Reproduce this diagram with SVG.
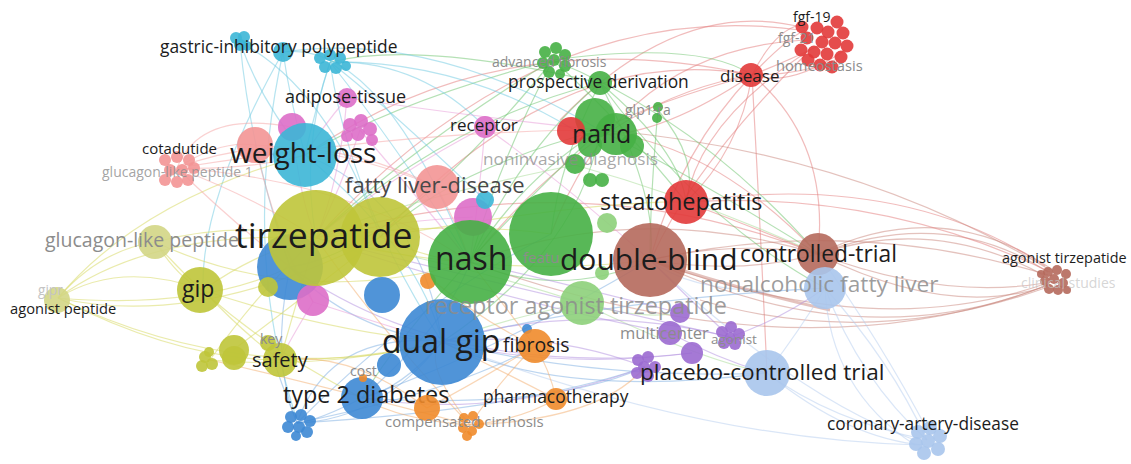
<svg xmlns="http://www.w3.org/2000/svg" width="1131" height="464" viewBox="0 0 1131 464">
<style>
text{font-family:"Open Sans","Noto Sans","Liberation Sans",sans-serif;}
.k{fill:#1c1c1c}.gr{fill:#8c8c8c}.lt{fill:#c4c4c4}.dk{fill:#484848}
#links path{fill:none;stroke-width:1.2;stroke-opacity:.5}
.r{stroke:#e47a7a}.br{stroke:#c9857b}.g{stroke:#6cc46c}.lg{stroke:#a6dc94}.c{stroke:#6ec9e1}.b{stroke:#7badE2}.lb{stroke:#b5cdf0}.y{stroke:#d6d85a}.p{stroke:#b28fe0}.o{stroke:#f3ad6e}.m{stroke:#e89ad8}.s{stroke:#f6a3a3}
.Y{fill:#bfc53a}.LY{fill:#d3d685}.B{fill:#3d88d4}.G{fill:#46b045}.LG{fill:#8dd07a}.R{fill:#e23a3a}.BR{fill:#b5695c}.LB{fill:#a9c5ec}.P{fill:#9b6ad0}.O{fill:#f08b2b}.M{fill:#dd6ec8}.S{fill:#f39595}.C{fill:#3cb6d6}
circle{fill-opacity:.9}
</style>
<rect width="1131" height="464" fill="#ffffff"/>
<g id="links">
<path class="r" d="M752 75 Q785 40 805 30"/><path class="r" d="M752 75 Q790 60 820 45"/><path class="r" d="M752 75 Q800 75 835 60"/><path class="r" d="M752 75 Q775 30 800 25"/><path class="r" d="M752 75 Q790 88 845 50"/>
<path class="r" d="M752 75 Q680 150 650 260"/><path class="r" d="M752 75 Q740 150 686 202"/><path class="r" d="M752 75 Q600 100 470 262"/><path class="r" d="M752 75 Q560 40 380 237"/><path class="r" d="M752 75 Q830 140 818 254"/><path class="r" d="M752 75 Q660 100 600 130"/><path class="r" d="M805 28 Q680 -5 560 120"/><path class="r" d="M810 50 Q700 120 686 202"/><path class="r" d="M805 55 Q690 170 651 260"/><path class="r" d="M805 40 Q620 50 551 234"/><path class="r" d="M686 202 Q760 230 818 254"/><path class="r" d="M576 131 Q700 130 818 254"/><path class="r" d="M752 75 Q640 150 572 131"/><path class="r" d="M752 75 Q500 20 305 155"/><path class="r" d="M800 30 Q540 -5 316 238"/><path class="r" d="M752 75 Q760 220 767 373"/>
<path class="br" d="M818 254 Q940 195 1050 268"/><path class="br" d="M818 254 Q945 205 1048 272"/><path class="br" d="M818 254 Q935 215 1045 276"/><path class="r" d="M686 202 Q900 170 1045 266"/><path class="r" d="M686 202 Q880 190 1050 272"/><path class="br" d="M650 260 Q860 360 1048 285"/><path class="br" d="M650 260 Q880 345 1050 282"/><path class="br" d="M700 300 Q870 350 1045 288"/><path class="br" d="M818 254 Q950 320 1050 285"/><path class="br" d="M818 254 Q940 300 1045 283"/><path class="br" d="M650 260 Q850 215 1048 275"/><path class="br" d="M600 130 Q850 150 1050 270"/><path class="br" d="M470 262 Q800 380 1045 286"/>
<path class="br" d="M650 260 Q735 240 818 254"/><path class="br" d="M650 260 Q740 275 818 254"/><path class="br" d="M470 262 Q640 200 818 254"/><path class="r" d="M316 238 Q580 160 818 254"/><path class="br" d="M650 260 Q740 290 830 310" style="stroke-width:3"/>
<path class="g" d="M600 83 Q520 150 470 262"/><path class="g" d="M600 83 Q560 160 551 234"/><path class="g" d="M600 83 Q450 120 316 238"/><path class="g" d="M600 83 Q680 150 686 202"/><path class="g" d="M600 83 Q660 200 650 260"/><path class="g" d="M553 60 Q400 100 305 155"/><path class="g" d="M553 60 Q420 140 316 238"/><path class="g" d="M553 60 Q500 160 470 262"/><path class="g" d="M553 60 Q620 120 686 202"/><path class="g" d="M553 60 Q700 40 752 75"/><path class="g" d="M600 130 Q520 180 470 262"/><path class="g" d="M600 130 Q450 170 380 237"/><path class="g" d="M600 130 Q700 180 818 254"/><path class="g" d="M658 110 Q700 160 686 202"/><path class="g" d="M658 110 Q650 200 650 260"/><path class="g" d="M600 130 Q580 250 442 342"/><path class="g" d="M470 262 Q560 300 650 260"/><path class="g" d="M553 60 Q700 120 818 254"/><path class="g" d="M600 83 Q700 220 825 288"/><path class="g" d="M600 83 Q420 40 330 62"/><path class="g" d="M553 60 Q400 250 290 267"/><path class="g" d="M600 130 Q420 300 362 398"/>
<path class="lg" d="M582 303 Q500 320 442 342"/><path class="lg" d="M582 303 Q640 320 680 313"/><path class="lg" d="M582 303 Q450 260 316 238"/><path class="lg" d="M582 303 Q700 360 767 373"/><path class="lg" d="M575 165 Q700 200 818 254"/><path class="lg" d="M575 165 Q400 200 316 238"/>
<path class="c" d="M240 42 Q260 100 305 155"/><path class="c" d="M283 52 Q290 100 305 155"/><path class="c" d="M330 62 Q315 110 305 155"/><path class="c" d="M330 62 Q300 150 316 238"/><path class="c" d="M240 42 Q250 150 290 267"/><path class="c" d="M330 62 Q350 200 442 342"/><path class="c" d="M330 62 Q400 150 470 262"/><path class="c" d="M330 62 Q460 60 576 131"/><path class="c" d="M283 52 Q430 30 600 130"/><path class="c" d="M330 62 Q380 100 485 200"/><path class="c" d="M283 52 Q200 200 203 290"/><path class="c" d="M305 155 Q420 250 442 342"/><path class="c" d="M283 52 Q240 250 297 420"/><path class="c" d="M330 62 Q420 60 485 127"/><path class="c" d="M240 42 Q330 90 380 237"/><path class="c" d="M283 52 Q380 40 470 262"/>
<path class="b" d="M442 342 Q380 420 297 423"/><path class="b" d="M442 342 Q400 390 362 398"/><path class="b" d="M290 267 Q270 360 297 423"/><path class="b" d="M362 398 Q320 420 297 423"/><path class="b" d="M442 342 Q600 380 767 373"/><path class="b" d="M442 342 Q600 300 825 288"/><path class="b" d="M362 398 Q450 320 470 262"/><path class="b" d="M290 267 Q350 330 442 342"/><path class="b" d="M442 342 Q420 200 305 155"/><path class="b" d="M297 423 Q330 330 442 342"/><path class="b" d="M297 423 Q520 410 645 367"/><path class="b" d="M362 398 Q550 410 645 367"/><path class="b" d="M442 342 Q560 400 767 373"/><path class="b" d="M297 423 Q260 330 280 360"/><path class="b" d="M297 423 Q420 300 551 234"/><path class="b" d="M362 398 Q500 350 650 260"/><path class="b" d="M297 423 Q460 390 535 346"/>
<path class="lb" d="M825 288 Q860 380 927 440"/><path class="lb" d="M825 288 Q890 360 927 440"/><path class="lb" d="M825 288 Q830 390 915 445"/><path class="lb" d="M767 373 Q830 420 927 440"/><path class="lb" d="M767 373 Q850 440 925 445"/><path class="lb" d="M825 288 Q800 330 767 373"/><path class="lb" d="M818 254 Q880 340 930 435"/><path class="lb" d="M442 342 Q700 440 920 445"/><path class="lb" d="M650 260 Q800 400 915 440"/><path class="lb" d="M825 288 Q700 300 650 260"/>
<path class="y" d="M58 298 Q120 260 203 290"/><path class="y" d="M58 298 Q150 230 316 238"/><path class="y" d="M58 298 Q200 330 380 237"/><path class="y" d="M58 298 Q180 360 280 360"/><path class="y" d="M58 298 Q100 250 155 242"/><path class="y" d="M58 298 Q200 310 290 267"/><path class="y" d="M155 242 Q240 220 316 238"/><path class="y" d="M155 242 Q180 280 203 290"/><path class="y" d="M203 290 Q240 330 280 360"/><path class="y" d="M203 290 Q260 250 316 238"/><path class="y" d="M210 360 Q260 290 316 238"/><path class="y" d="M233 350 Q300 300 380 237"/><path class="y" d="M280 360 Q360 360 442 342"/><path class="y" d="M280 360 Q300 290 316 238"/><path class="y" d="M203 290 Q320 330 442 342"/><path class="y" d="M155 242 Q300 310 470 262"/><path class="y" d="M58 298 Q250 390 442 342"/><path class="y" d="M210 360 Q320 370 442 342"/><path class="y" d="M380 237 Q430 260 470 262"/><path class="y" d="M316 238 Q450 220 551 234"/><path class="y" d="M316 238 Q500 280 650 260"/><path class="y" d="M58 298 Q140 200 305 155"/><path class="y" d="M155 242 Q230 330 362 398"/><path class="y" d="M380 237 Q600 200 686 202"/>
<path class="p" d="M645 367 Q550 330 442 342"/><path class="p" d="M730 337 Q580 300 442 342"/><path class="p" d="M680 313 Q550 280 470 262"/><path class="p" d="M670 333 Q500 300 316 238"/><path class="p" d="M692 353 Q560 370 442 342"/><path class="p" d="M730 337 Q690 300 650 260"/><path class="p" d="M645 367 Q500 420 362 398"/><path class="p" d="M730 337 Q780 320 825 288"/><path class="p" d="M670 333 Q720 360 767 373"/><path class="p" d="M730 337 Q480 280 316 238"/><path class="p" d="M692 353 Q450 380 290 267"/>
<path class="o" d="M470 425 Q500 380 535 346"/><path class="o" d="M470 425 Q420 360 442 342"/><path class="o" d="M470 425 Q400 420 362 398"/><path class="o" d="M556 399 Q500 370 442 342"/><path class="o" d="M556 399 Q550 370 535 346"/><path class="o" d="M427 408 Q480 380 535 346"/><path class="o" d="M470 425 Q520 420 556 399"/><path class="o" d="M470 425 Q380 330 316 238"/><path class="o" d="M535 346 Q500 300 470 262"/><path class="o" d="M430 278 Q480 320 535 346"/><path class="o" d="M470 425 Q600 420 645 367"/><path class="o" d="M427 408 Q350 350 280 360"/><path class="o" d="M470 425 Q300 380 210 360"/>
<path class="m" d="M347 98 Q320 130 305 155"/><path class="m" d="M347 98 Q340 180 316 238"/><path class="m" d="M360 130 Q340 190 316 238"/><path class="m" d="M485 127 Q400 170 316 238"/><path class="m" d="M485 127 Q480 190 470 262"/><path class="m" d="M292 127 Q300 200 316 238"/><path class="m" d="M313 302 Q300 270 290 267"/><path class="m" d="M473 217 Q400 220 316 238"/><path class="m" d="M360 130 Q420 200 470 262"/><path class="m" d="M485 127 Q560 180 650 260"/><path class="m" d="M347 98 Q500 120 600 130"/><path class="m" d="M313 302 Q400 330 442 342"/><path class="m" d="M313 302 Q290 340 280 360"/>
<path class="s" d="M177 168 Q220 140 255 145"/><path class="s" d="M177 168 Q250 170 305 155"/><path class="s" d="M177 168 Q260 200 316 238"/><path class="s" d="M177 168 Q300 120 437 187"/><path class="s" d="M177 168 Q350 180 470 262"/><path class="s" d="M177 168 Q230 220 290 267"/><path class="s" d="M255 145 Q350 150 437 187"/><path class="s" d="M437 187 Q460 230 470 262"/><path class="s" d="M177 168 Q420 130 600 130"/><path class="s" d="M255 145 Q280 250 313 302"/><path class="s" d="M177 168 Q200 110 292 127"/>
</g>
<g id="n-gastric">
<circle class="C" cx="236" cy="38" r="6"/><circle class="C" cx="244" cy="37" r="6"/><circle class="C" cx="240" cy="45" r="6"/><circle class="C" cx="247" cy="46" r="5"/>
<circle class="C" cx="283" cy="52" r="10"/>
<circle class="C" cx="320" cy="58" r="6"/><circle class="C" cx="330" cy="55" r="6"/><circle class="C" cx="340" cy="58" r="6"/><circle class="C" cx="325" cy="67" r="6"/><circle class="C" cx="336" cy="68" r="6"/><circle class="C" cx="346" cy="66" r="5"/>
<text class="k" x="160" y="53" font-size="17.4">gastric-inhibitory polypeptide</text>
</g>
<g id="n-adipose">
<circle class="M" cx="350" cy="125" r="7"/><circle class="M" cx="361" cy="121" r="7"/><circle class="M" cx="370" cy="129" r="7"/><circle class="M" cx="358" cy="134" r="7"/><circle class="M" cx="347" cy="136" r="6"/><circle class="M" cx="372" cy="140" r="6"/>
<circle class="M" cx="347" cy="98" r="10"/>
<text class="k" x="285" y="103" font-size="18">adipose-tissue</text>
</g>
<g id="n-cotadutide">
<circle class="S" cx="165" cy="160" r="6"/><circle class="S" cx="177" cy="157" r="6"/><circle class="S" cx="189" cy="160" r="6"/><circle class="S" cx="170" cy="170" r="6"/><circle class="S" cx="182" cy="170" r="6"/><circle class="S" cx="194" cy="168" r="6"/><circle class="S" cx="165" cy="180" r="6"/><circle class="S" cx="177" cy="182" r="6"/><circle class="S" cx="188" cy="180" r="6"/>
<text class="k" x="142" y="154" font-size="15">cotadutide</text>
<text class="gr" x="102" y="177" font-size="14" fill-opacity=".8">glucagon-like peptide 1</text>
</g>
<g id="n-weight-loss">
<circle class="S" cx="255" cy="145" r="18"/>
<circle class="M" cx="292" cy="127" r="14"/>
<circle class="C" cx="305" cy="155" r="32"/>
<text class="k" x="230" y="163" font-size="28">weight-loss</text>
</g>
<g id="n-receptor">
<circle class="M" cx="485" cy="127" r="11"/>
<text class="k" x="450" y="131" font-size="17">receptor</text>
</g>
<g id="n-advanced-fibrosis">
<circle class="G" cx="545" cy="52" r="6"/><circle class="G" cx="556" cy="48" r="6"/><circle class="G" cx="565" cy="55" r="6"/><circle class="G" cx="543" cy="63" r="6"/><circle class="G" cx="554" cy="60" r="6"/><circle class="G" cx="565" cy="66" r="6"/><circle class="G" cx="549" cy="72" r="6"/><circle class="G" cx="560" cy="74" r="5"/>
<text class="gr" x="492" y="67" font-size="14">advanced fibrosis</text>
</g>
<g id="n-prospective">
<circle class="G" cx="600" cy="83" r="12"/>
<text class="k" x="508" y="88" font-size="17.4">prospective derivation</text>
</g>
<g id="n-disease">
<circle class="R" cx="751" cy="75" r="12"/>
<text class="k" x="720" y="82" font-size="17">disease</text>
</g>
<g id="n-fgf">
<circle class="R" cx="802" cy="27" r="6.5"/><circle class="R" cx="817" cy="28" r="6.5"/><circle class="R" cx="828" cy="32" r="6.5"/><circle class="R" cx="837" cy="22" r="6.5"/><circle class="R" cx="843" cy="33" r="6.5"/><circle class="R" cx="807" cy="38" r="6.5"/><circle class="R" cx="822" cy="42" r="6.5"/><circle class="R" cx="835" cy="43" r="6.5"/><circle class="R" cx="847" cy="46" r="6.5"/><circle class="R" cx="801" cy="50" r="6.5"/><circle class="R" cx="814" cy="52" r="6.5"/><circle class="R" cx="827" cy="54" r="6.5"/><circle class="R" cx="841" cy="57" r="6.5"/><circle class="R" cx="808" cy="60" r="6.5"/><circle class="R" cx="820" cy="65" r="6.5"/><circle class="R" cx="832" cy="67" r="6.5"/>
<text class="k" x="793" y="22" font-size="14">fgf-19</text>
<text class="gr" x="778" y="43" font-size="14">fgf-21</text>
<text class="gr" x="776" y="71" font-size="14.7">homeostasis</text>
</g>
<g id="n-glp1-ra">
<circle class="G" cx="658" cy="107" r="5"/><circle class="G" cx="657" cy="118" r="5"/>
<text class="gr" x="625" y="115" font-size="14">glp1-ra</text>
</g>
<g id="n-nafld">
<circle class="G" cx="595" cy="118" r="20"/><circle class="G" cx="616" cy="134" r="21"/><circle class="G" cx="632" cy="146" r="12"/><circle class="G" cx="590" cy="145" r="12"/>
<circle class="R" cx="571" cy="131" r="14"/>
<text class="k" x="572" y="143" font-size="25">nafld</text>
</g>
<g id="n-noninvasive">
<circle class="G" cx="575" cy="164" r="10"/><circle class="G" cx="590" cy="180" r="7"/><circle class="G" cx="602" cy="180" r="7"/>
<text class="gr" x="483" y="165" font-size="17.2" fill-opacity=".75">noninvasive diagnosis</text>
</g>
<g id="n-fatty-liver-disease">
<circle class="S" cx="437" cy="187" r="22"/>
<circle class="M" cx="473" cy="217" r="19"/>
<circle class="C" cx="485" cy="200" r="9"/>
<text class="dk" x="345" y="193" font-size="22">fatty liver-disease</text>
</g>
<g id="n-steatohepatitis">
<circle class="R" cx="686" cy="202" r="22"/>
<text class="k" x="600" y="210" font-size="23.4">steatohepatitis</text>
</g>
<g id="n-glucagon">
<circle class="LY" cx="155" cy="242" r="17"/>
<text class="gr" x="45" y="247" font-size="19.5">glucagon-like peptide</text>
</g>
<g id="n-gipr">
<circle class="LY" cx="57" cy="300" r="13"/>
<text class="lt" x="38" y="295" font-size="13.6">gipr</text>
<text class="k" x="10" y="314" font-size="14.7">agonist peptide</text>
</g>
<g id="n-gip">
<circle class="Y" cx="200" cy="290" r="23"/>
<text class="k" x="182" y="297" font-size="23">gip</text>
</g>
<g id="n-yellow-cluster">
<circle class="Y" cx="205" cy="357" r="6"/><circle class="Y" cx="212" cy="364" r="6"/><circle class="Y" cx="202" cy="366" r="6"/><circle class="Y" cx="209" cy="352" r="5"/>
<circle class="Y" cx="234" cy="350" r="15"/><circle class="Y" cx="234" cy="358" r="12"/>
</g>
<g id="n-safety">
<circle class="Y" cx="268" cy="343" r="8"/>
<circle class="Y" cx="280" cy="360" r="17"/>
<text class="gr" x="260" y="344" font-size="14">key</text>
<text class="k" x="252" y="367" font-size="20">safety</text>
</g>
<g id="n-tirzepatide">
<circle class="B" cx="290" cy="267" r="33"/>
<circle class="Y" cx="268" cy="287" r="10"/>
<circle class="M" cx="313" cy="300" r="16"/>
<circle class="Y" cx="316" cy="238" r="48"/>
<circle class="Y" cx="380" cy="237" r="40"/>
<circle class="B" cx="382" cy="295" r="18"/>
<circle class="O" cx="428" cy="281" r="8"/>
<text class="k" x="235" y="248" font-size="35.5">tirzepatide</text>
</g>
<g id="n-nash">
<circle class="G" cx="470" cy="262" r="42"/>
<text class="k" x="435" y="270" font-size="32">nash</text>
</g>
<g id="n-features">
<circle class="G" cx="551" cy="234" r="42"/>
<circle class="LG" cx="607" cy="223" r="10"/><circle class="LG" cx="602" cy="273" r="7"/>
<text class="gr" x="523" y="263" font-size="15">featu</text>
</g>
<g id="n-double-blind">
<circle class="BR" cx="650" cy="260" r="37"/>
<text class="k" x="560" y="270" font-size="30">double-blind</text>
</g>
<g id="n-controlled-trial">
<circle class="BR" cx="818" cy="254" r="21"/>
<text class="k" x="740" y="262" font-size="22.8">controlled-trial</text>
</g>
<g id="n-nonalcoholic">
<circle class="LB" cx="825" cy="288" r="21"/>
<text class="gr" x="700" y="292" font-size="22.7" fill-opacity=".85">nonalcoholic fatty liver</text>
</g>
<g id="n-agonist-tirzepatide">
<circle class="BR" cx="1048" cy="272" r="5"/><circle class="BR" cx="1057" cy="270" r="5"/><circle class="BR" cx="1066" cy="274" r="5"/><circle class="BR" cx="1045" cy="281" r="5"/><circle class="BR" cx="1054" cy="279" r="5"/><circle class="BR" cx="1063" cy="283" r="5"/><circle class="BR" cx="1049" cy="289" r="5"/><circle class="BR" cx="1058" cy="290" r="5"/><circle class="BR" cx="1067" cy="290" r="4"/><circle class="BR" cx="1041" cy="274" r="4"/>
<text class="k" x="1002" y="263" font-size="14.4">agonist tirzepatide</text>
<text class="lt" x="1021" y="288" font-size="14" fill-opacity=".7">clinical studies</text>
</g>
<g id="n-dual-gip">
<circle class="B" cx="389" cy="365" r="12"/>
<circle class="B" cx="442" cy="342" r="43"/>
<circle class="B" cx="527" cy="329" r="5"/>
<text class="k" x="382" y="353" font-size="32">dual gip</text>
</g>
<g id="n-type2">
<circle class="B" cx="362" cy="398" r="21"/>
<circle class="O" cx="363" cy="378" r="4"/>
<circle class="B" cx="291" cy="417" r="6"/><circle class="B" cx="301" cy="415" r="6"/><circle class="B" cx="310" cy="421" r="6"/><circle class="B" cx="288" cy="427" r="6"/><circle class="B" cx="299" cy="427" r="6"/><circle class="B" cx="307" cy="432" r="6"/><circle class="B" cx="296" cy="436" r="5"/>
<text class="gr" x="350" y="376" font-size="14">cost</text>
<text class="k" x="283" y="403" font-size="23.4">type 2 diabetes</text>
</g>
<g id="n-multicenter">
<circle class="P" cx="680" cy="313" r="10"/>
<circle class="P" cx="670" cy="333" r="12"/>
<circle class="P" cx="692" cy="353" r="11"/>
<text class="gr" x="620" y="339" font-size="16.5">multicenter</text>
</g>
<g id="n-agonist">
<circle class="P" cx="722" cy="332" r="6"/><circle class="P" cx="731" cy="327" r="6"/><circle class="P" cx="739" cy="334" r="6"/><circle class="P" cx="735" cy="344" r="6"/><circle class="P" cx="724" cy="343" r="6"/><circle class="P" cx="730" cy="337" r="5"/>
<text class="gr" x="711" y="344" font-size="13.5">agonist</text>
</g>
<g id="n-receptor-agonist-tirzepatide">
<circle class="LG" cx="582" cy="303" r="22"/>
<text class="gr" x="425" y="314" font-size="23.4" fill-opacity=".85">receptor agonist tirzepatide</text>
</g>
<g id="n-fibrosis">
<circle class="O" cx="535" cy="346" r="17"/>
<text class="k" x="503" y="352" font-size="19.5">fibrosis</text>
</g>
<g id="n-pharmacotherapy">
<circle class="O" cx="556" cy="399" r="11"/>
<text class="k" x="483" y="403" font-size="17.4">pharmacotherapy</text>
</g>
<g id="n-compensated">
<circle class="O" cx="427" cy="408" r="13"/>
<circle class="O" cx="464" cy="418" r="5"/><circle class="O" cx="473" cy="416" r="5"/><circle class="O" cx="479" cy="424" r="5"/><circle class="O" cx="463" cy="428" r="5"/><circle class="O" cx="472" cy="431" r="5"/><circle class="O" cx="467" cy="436" r="5"/>
<text class="gr" x="385" y="427" font-size="15">compensated cirrhosis</text>
</g>
<g id="n-placebo">
<circle class="P" cx="638" cy="360" r="6"/><circle class="P" cx="648" cy="357" r="6"/><circle class="P" cx="655" cy="367" r="6"/><circle class="P" cx="648" cy="376" r="6"/><circle class="P" cx="637" cy="373" r="6"/><circle class="P" cx="644" cy="367" r="6"/>
<circle class="LB" cx="767" cy="373" r="23"/>
<text class="k" x="640" y="380" font-size="22.6">placebo-controlled trial</text>
</g>
<g id="n-coronary">
<circle class="LB" cx="918" cy="432" r="7"/><circle class="LB" cx="930" cy="428" r="7"/><circle class="LB" cx="940" cy="436" r="7"/><circle class="LB" cx="916" cy="444" r="7"/><circle class="LB" cx="928" cy="441" r="7"/><circle class="LB" cx="938" cy="449" r="7"/><circle class="LB" cx="924" cy="453" r="7"/>
<text class="k" x="827" y="430" font-size="17.3">coronary-artery-disease</text>
</g>
</svg>
